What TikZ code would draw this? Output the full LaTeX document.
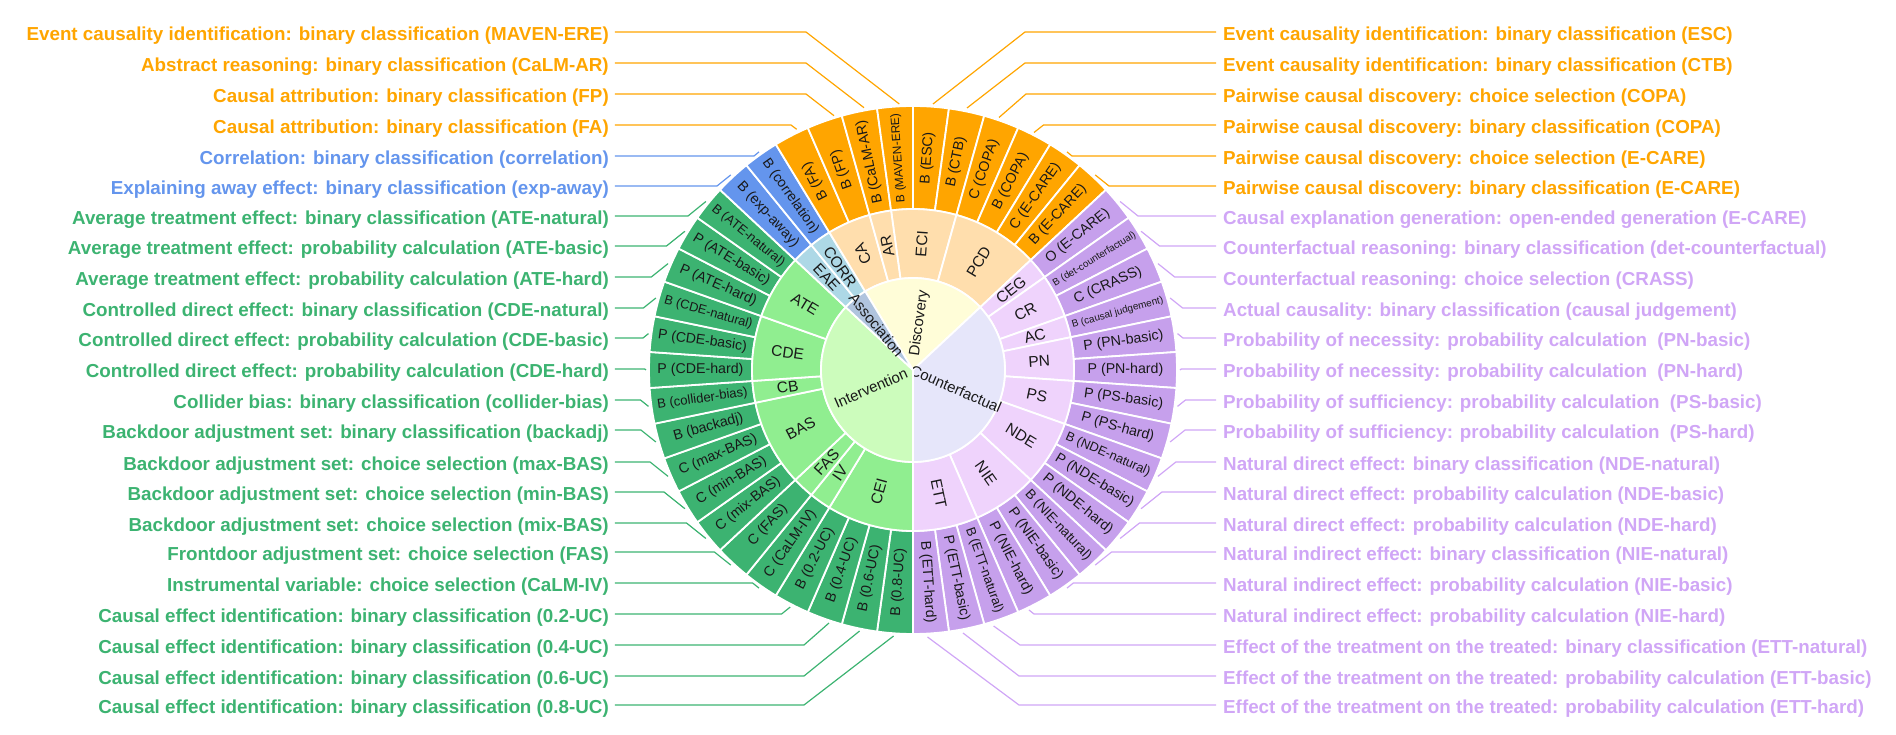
\documentclass[tikz,border=0pt]{standalone}
\usepackage{fontspec}
\setmainfont{Liberation Sans}
\definecolor{dOut}{HTML}{FFA500}
\definecolor{dMid}{HTML}{FFDEAD}
\definecolor{dIn}{HTML}{FFFDD8}
\definecolor{aOut}{HTML}{6495ED}
\definecolor{aMid}{HTML}{ADD8E6}
\definecolor{aIn}{HTML}{B0C4DE}
\definecolor{iOut}{HTML}{3CB371}
\definecolor{iMid}{HTML}{90EE90}
\definecolor{iIn}{HTML}{CCFCBC}
\definecolor{cOut}{HTML}{C6A0EC}
\definecolor{cMid}{HTML}{EFD3FC}
\definecolor{cIn}{HTML}{E6E6FA}
\definecolor{cTxt}{HTML}{D0A6F6}
\tikzset{
  sect/.style={draw=white, line width=1.8pt, line join=round},
  seglab/.style={inner sep=0pt, text=black!90},
  lbl/.style={inner sep=0pt, font=\fontsize{18.8}{20}\selectfont\bfseries},
  lead/.style={line width=1.2pt},
}
\begin{document}
\begin{tikzpicture}[x=1pt,y=1pt]
\useasboundingbox (-913,-365) rectangle (983,370);
\def\segw{7.8260870}
% ---------- outer ring ----------
\foreach \i in {1,...,46}{
  \ifnum\i<7 \def\cc{dOut}\else\ifnum\i<24 \def\cc{cOut}\else\ifnum\i<41 \def\cc{iOut}\else\ifnum\i<43 \def\cc{aOut}\else\def\cc{dOut}\fi\fi\fi\fi
  \pgfmathsetmacro\aA{90-(\i-1)*\segw}
  \pgfmathsetmacro\aB{90-\i*\segw}
  \path[sect, fill=\cc] (\aA:161pt) arc[start angle=\aA, end angle=\aB, radius=161pt] -- (\aB:264pt) arc[start angle=\aB, end angle=\aA, radius=264pt] -- cycle;
}
% ---------- middle ring ----------
\foreach \s/\n/\cc/\t/\fl in {-1/3/dMid/ECI/0, 2/4/dMid/PCD/0, 6/1/cMid/CEG/0, 7/2/cMid/CR/0, 9/1/cMid/AC/0, 10/2/cMid/PN/0, 12/2/cMid/PS/0, 14/3/cMid/NDE/0, 17/3/cMid/NIE/0, 20/3/cMid/ETT/0, 23/4/iMid/CEI/1, 27/1/iMid/IV/1, 28/1/iMid/FAS/1, 29/4/iMid/BAS/1, 33/1/iMid/CB/1, 34/3/iMid/CDE/1, 37/3/iMid/ATE/1, 40/1/aMid/EAE/1, 41/1/aMid/CORR/1, 42/2/dMid/CA/0, 44/1/dMid/AR/0}{
  \pgfmathsetmacro\aA{90-\s*\segw}
  \pgfmathsetmacro\aB{90-(\s+\n)*\segw}
  \pgfmathsetmacro\am{90-(\s+\n/2)*\segw}
  \pgfmathsetmacro\rot{\am+180*\fl}
  \path[sect, fill=\cc] (\aA:92pt) arc[start angle=\aA, end angle=\aB, radius=92pt] -- (\aB:161pt) arc[start angle=\aB, end angle=\aA, radius=161pt] -- cycle;
  \node[seglab, font=\fontsize{15.5}{15.5}\selectfont, rotate=\rot] (m\t) at (\am:126.5pt) {\t};
}
% ---------- inner ring ----------
\foreach \s/\n/\cc/\t/\fl/\r in {-4/10/dIn/Discovery/0/47, 6/17/cIn/Counterfactual/0/47, 23/17/iIn/Intervention/1/46, 40/2/aIn/Association/1/58}{
  \pgfmathsetmacro\aA{90-\s*\segw}
  \pgfmathsetmacro\aB{90-(\s+\n)*\segw}
  \pgfmathsetmacro\am{90-(\s+\n/2)*\segw}
  \pgfmathsetmacro\rot{\am+180*\fl}
  \path[sect, fill=\cc] (0,0) -- (\aA:92pt) arc[start angle=\aA, end angle=\aB, radius=92pt] -- cycle;
  \node[seglab, font=\fontsize{15}{15}\selectfont, rotate=\rot] (c\t) at (\am:\r pt) {\t};
}
% ---------- outer labels ----------
\foreach \i/\t/\fs/\fl in {
 1/{B (ESC)}/14.2/0, 2/{B (CTB)}/14.2/0, 3/{C (COPA)}/14.2/0, 4/{B (COPA)}/14.2/0,
 5/{C (E-CARE)}/14.2/0, 6/{B (E-CARE)}/14.2/0, 7/{O (E-CARE)}/14.2/0,
 8/{B (det-counterfactual)}/9.9/0, 9/{C (CRASS)}/14.2/0, 10/{B (causal judgement)}/10/0,
 11/{P (PN-basic)}/14.2/0, 12/{P (PN-hard)}/14.2/0, 13/{P (PS-basic)}/14.2/0, 14/{P (PS-hard)}/14.2/0,
 15/{B (NDE-natural)}/12.8/0, 16/{P (NDE-basic)}/14/0, 17/{P (NDE-hard)}/14.2/0,
 18/{B (NIE-natural)}/13.6/0, 19/{P (NIE-basic)}/14.2/0, 20/{P (NIE-hard)}/14.2/0,
 21/{B (ETT-natural)}/13.1/0, 22/{P (ETT-basic)}/14.2/0, 23/{B (ETT-hard)}/14.2/0,
 24/{B (0.8-UC)}/14.2/1, 25/{B (0.6-UC)}/14.2/1, 26/{B (0.4-UC)}/14.2/1, 27/{B (0.2-UC)}/14.2/1,
 28/{C (CaLM-IV)}/14.2/1, 29/{C (FAS)}/14.2/1, 30/{C (mix-BAS)}/14.2/1, 31/{C (min-BAS)}/14.2/1,
 32/{C (max-BAS)}/14.2/1, 33/{B (backadj)}/14.2/1, 34/{B (collider-bias)}/13.1/1,
 35/{P (CDE-hard)}/14.2/1, 36/{P (CDE-basic)}/14/1, 37/{B (CDE-natural)}/12.8/1,
 38/{P (ATE-hard)}/14.2/1, 39/{P (ATE-basic)}/14.2/1, 40/{B (ATE-natural)}/13.1/1,
 41/{B (exp-away)}/14.2/1, 42/{B (correlation)}/14/1,
 43/{B (FA)}/14.2/0, 44/{B (FP)}/14.2/0, 45/{B (CaLM-AR)}/14.2/0, 46/{B (MAVEN-ERE)}/11.9/0}{
  \pgfmathsetmacro\am{90-(\i-0.5)*\segw}
  \pgfmathsetmacro\rot{\am+180*\fl}
  \node[seglab, font=\fontsize{\fs}{\fs}\selectfont, rotate=\rot] (o\i) at (\am:212.5pt) {\t};
}
% ---------- left labels ----------
\foreach \k/\ly/\kx/\rx/\ry/\col/\txt in {
 1/338/-107/-13.7/266/dOut/{Event causality identification: binary classification (MAVEN-ERE)},
 2/307/-107/-49/262.3/dOut/{Abstract reasoning: binary classification (CaLM-AR)},
 3/276/-107/-79/254.3/dOut/{Causal attribution: binary classification (FP)},
 4/245/-122/-116.3/240.7/dOut/{Causal attribution: binary classification (FA)},
 5/214/-159/-154/218.1/aOut/{Correlation: binary classification (correlation)},
 6/184/-196/-182.2/195.1/aOut/{Explaining away effect: binary classification (exp-away)},
 7/154/-225/-207.1/168.5/iOut/{Average treatment effect: binary classification (ATE-natural)},
 8/124/-246.5/-228.1/138.7/iOut/{Average treatment effect: probability calculation (ATE-basic)},
 9/93/-261.7/-244.9/106.4/iOut/{Average treatment effect: probability calculation (ATE-hard)},
 10/62/-269.6/-257.1/72/iOut/{Controlled direct effect: binary classification (CDE-natural)},
 11/32/-270/-264.5/36.4/iOut/{Controlled direct effect: probability calculation (CDE-basic)},
 12/1/-268.3/-267/0/iOut/{Controlled direct effect: probability calculation (CDE-hard)},
 13/-30/-272.5/-264.5/-36.4/iOut/{Collider bias: binary classification (collider-bias)},
 14/-60/-272.1/-257.1/-72/iOut/{Backdoor adjustment set: binary classification (backadj)},
 15/-92/-262.9/-244.9/-106.4/iOut/{Backdoor adjustment set: choice selection (max-BAS)},
 16/-122/-249/-228.1/-138.7/iOut/{Backdoor adjustment set: choice selection (min-BAS)},
 17/-153/-226.5/-207.1/-168.5/iOut/{Backdoor adjustment set: choice selection (mix-BAS)},
 18/-182/-198.6/-182.2/-195.1/iOut/{Frontdoor adjustment set: choice selection (FAS)},
 19/-213/-160.4/-154/-218.1/iOut/{Instrumental variable: choice selection (CaLM-IV)},
 20/-244/-131.4/-122.8/-237.1/iOut/{Causal effect identification: binary classification (0.2-UC)},
 21/-275/-109/-84/-253/iOut/{Causal effect identification: binary classification (0.4-UC)},
 22/-306/-109/-53.4/-261/iOut/{Causal effect identification: binary classification (0.6-UC)},
 23/-335/-109/-19.4/-266/iOut/{Causal effect identification: binary classification (0.8-UC)}}{
  \node[lbl, text=\col, anchor=base east] (L\k) at (-304,\ly-9) {\txt};
  \coordinate (LK\k) at (\kx,\ly);
  \coordinate (LP\k) at (\rx,\ry);
  \draw[lead, \col] ([xshift=6pt,yshift=9pt]L\k.base east) -- (LK\k) -- (LP\k);
}
% ---------- right labels ----------
\foreach \k/\ly/\kx/\rx/\ry/\col/\lc/\txt in {
 1/338/112/20/266/dOut/dOut/{Event causality identification: binary classification (ESC)},
 2/307/112/54/262/dOut/dOut/{Event causality identification: binary classification (CTB)},
 3/276/113/86/252.5/dOut/dOut/{Pairwise causal discovery: choice selection (COPA)},
 4/245/130.5/121/237.5/dOut/dOut/{Pairwise causal discovery: binary classification (COPA)},
 5/214/159/154/218.1/dOut/dOut/{Pairwise causal discovery: choice selection (E-CARE)},
 6/184/196/182.2/195.1/dOut/dOut/{Pairwise causal discovery: binary classification (E-CARE)},
 7/154/225/207.1/168.5/cTxt/cTxt/{Causal explanation generation: open-ended generation (E-CARE)},
 8/124/246.5/228.1/138.7/cTxt/cTxt/{Counterfactual reasoning: binary classification (det-counterfactual)},
 9/93/261.7/244.9/106.4/cTxt/cTxt/{Counterfactual reasoning: choice selection (CRASS)},
 10/62/269.6/257.1/72/cTxt/cTxt/{Actual causality: binary classification (causal judgement)},
 11/32/270/264.5/36.4/cTxt/cTxt/{Probability of necessity: probability calculation~ (PN-basic)},
 12/1/268.3/267/0/cTxt/cTxt/{Probability of necessity: probability calculation~ (PN-hard)},
 13/-30/272.5/264.5/-36.4/cTxt/cTxt/{Probability of sufficiency: probability calculation~ (PS-basic)},
 14/-60/272.1/257.1/-72/cTxt/cTxt/{Probability of sufficiency: probability calculation~ (PS-hard)},
 15/-92/262.9/244.9/-106.4/cTxt/cTxt/{Natural direct effect: binary classification (NDE-natural)},
 16/-122/249/228.1/-138.7/cTxt/cTxt/{Natural direct effect: probability calculation (NDE-basic)},
 17/-153/226.5/207.1/-168.5/cTxt/cTxt/{Natural direct effect: probability calculation (NDE-hard)},
 18/-182/198.6/182.2/-195.1/cTxt/cTxt/{Natural indirect effect: binary classification (NIE-natural)},
 19/-213/160.4/154/-218.1/cTxt/cTxt/{Natural indirect effect: probability calculation (NIE-basic)},
 20/-244/121/116/-240/cTxt/cTxt/{Natural indirect effect: probability calculation (NIE-hard)},
 21/-275/107/80.6/-256/cTxt/cTxt/{Effect of the treatment on the treated: binary classification (ETT-natural)},
 22/-306/106/50/-263/cTxt/cTxt/{Effect of the treatment on the treated: probability calculation (ETT-basic)},
 23/-335/106/14.5/-267/cTxt/cTxt/{Effect of the treatment on the treated: probability calculation (ETT-hard)}}{
  \node[lbl, text=\col, anchor=base west] (R\k) at (310,\ly-9) {\txt};
  \coordinate (RK\k) at (\kx,\ly);
  \coordinate (RP\k) at (\rx,\ry);
  \draw[lead, \lc] ([xshift=-7pt,yshift=9pt]R\k.base west) -- (RK\k) -- (RP\k);
}
\end{tikzpicture}
\end{document}
